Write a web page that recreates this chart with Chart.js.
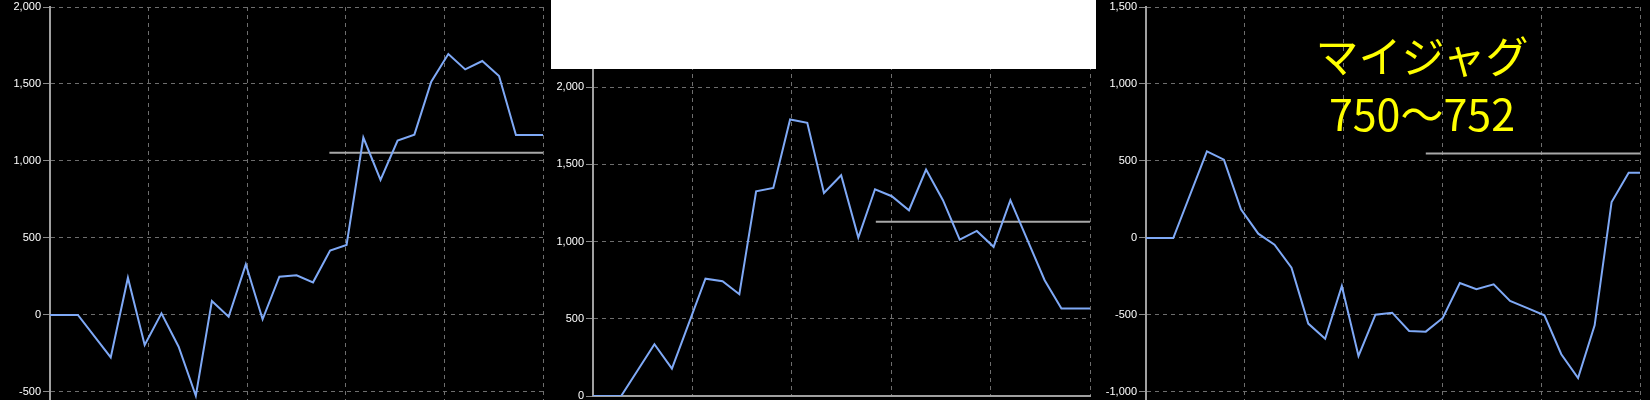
<!DOCTYPE html>
<html>
<head>
<meta charset="utf-8">
<script src="https://cdn.jsdelivr.net/npm/chart.js@4"></script>
<style>
  body { margin: 0; background: #000; width: 1650px; height: 400px; overflow: hidden; position: relative; }
  .panel { position: absolute; top: 0; height: 400px; }
  #box { position: absolute; left: 551px; top: 0; width: 545px; height: 69px; background: #fff; z-index: 2; }
  #label { position: absolute; left: 1272px; top: 25px; width: 300px; text-align: center; z-index: 3;
           font-family: "Noto Sans CJK JP", sans-serif; font-size: 43px; line-height: 58px; color: #ffff00; }
</style>
</head>
<body>
<div class="panel" style="left:0;width:545px"><canvas id="c1"></canvas></div>
<div class="panel" style="left:545px;width:547px"><canvas id="c2"></canvas></div>
<div class="panel" style="left:1096px;width:554px"><canvas id="c3"></canvas></div>
<div id="box"></div>
<div id="label">マイジャグ<br>750〜752</div>
<script>
// games played (x) and coin difference (y) for each machine
let games1 = [0, 276, 601, 771, 937, 1103, 1273, 1443, 1602, 1768, 1938, 2104, 2270, 2440, 2603, 2772, 2935, 3101, 3271, 3440, 3606, 3773, 3942, 4109, 4278, 4444, 4611, 4879];
let diff1 = [0, 0, -275, 242, -195, 11, -206, -525, 91, -11, 329, -28, 249, 258, 212, 418, 455, 1152, 877, 1132, 1171, 1515, 1695, 1595, 1649, 1552, 1169, 1169];

let games2 = [0, 277, 604, 776, 1106, 1274, 1439, 1604, 1773, 1938, 2107, 2271, 2440, 2609, 2773, 2938, 3107, 3275, 3441, 3606, 3774, 3939, 4104, 4441, 4606, 4887];
let diff2 = [0, 0, 335, 177, 760, 743, 659, 1326, 1348, 1791, 1769, 1315, 1430, 1026, 1339, 1294, 1203, 1467, 1268, 1013, 1069, 966, 1268, 750, 566, 566];

let games3 = [0, 270, 603, 771, 940, 1111, 1272, 1440, 1606, 1773, 1938, 2103, 2271, 2436, 2604, 2769, 2937, 3106, 3270, 3441, 3603, 3775, 3943, 4110, 4276, 4440, 4608, 4777, 4889];
let diff3 = [0, 0, 563, 509, 186, 28, -43, -193, -556, -654, -312, -766, -498, -485, -604, -608, -519, -292, -333, -301, -409, -455, -502, -755, -909, -567, 234, 424, 424];

// grey reference line: start game and level
let avgStart = [2765, 2781, 2769];
let avgLevel = [1054, 1128, 548];

// y range and tick labels of each panel
let yMin = [-552, 0, -1052];
let yMax = [2000, 2500, 1500];
let yTicks1 = [-500, 0, 500, 1000, 1500, 2000];
let yTicks2 = [0, 500, 1000, 1500, 2000, 2500];
let yTicks3 = [-1000, -500, 0, 500, 1000, 1500];
let yTicks = [yTicks1, yTicks2, yTicks3];

function makeChart(id, games, diff, i, axisWidth, pad, showBottom) {
    let line = games.map((g, k) => ({x: g, y: diff[k]}));
    let last = games[games.length - 1];
    return new Chart(document.getElementById(id), {
        type: 'line',
        data: {
            datasets: [
                {
                    data: line,
                    borderColor: '#7fa9f6',
                    borderWidth: 2,
                    pointRadius: 0,
                    tension: 0
                },
                {
                    data: [{x: avgStart[i], y: avgLevel[i]}, {x: last, y: avgLevel[i]}],
                    borderColor: '#a8a8a8',
                    borderWidth: 2,
                    pointRadius: 0
                }
            ]
        },
        options: {
            animation: false,
            responsive: true,
            maintainAspectRatio: false,
            layout: {padding: pad},
            plugins: {legend: {display: false}, tooltip: {enabled: false}},
            scales: {
                x: {
                    type: 'linear',
                    min: 0,
                    max: last,
                    ticks: {display: false, stepSize: 1000, includeBounds: false},
                    grid: {color: '#6e6e6e', drawTicks: false},
                    border: {display: showBottom, color: '#a0a0a0', width: 2, dash: [4, 4]},
                    afterFit: s => { s.height = 0; s.paddingLeft = 0; s.paddingRight = 0; }
                },
                y: {
                    min: yMin[i],
                    max: yMax[i],
                    afterBuildTicks: s => { s.ticks = yTicks[i].map(v => ({value: v})); },
                    ticks: {
                        color: '#ffffff',
                        padding: 2,
                        font: {family: 'Liberation Sans, Arial, sans-serif', size: 11},
                        callback: v => v.toLocaleString('en-US')
                    },
                    grid: {color: '#6e6e6e', tickLength: 7, tickColor: '#8a8a8a'},
                    border: {color: '#a0a0a0', width: 2, dash: [4, 4]},
                    afterFit: s => { s.width = axisWidth; s.paddingTop = 0; s.paddingBottom = 0; }
                }
            }
        }
    });
}

makeChart('c1', games1, diff1, 0, 50, {top: 7, right: 2, bottom: 0, left: 0}, false);
makeChart('c2', games2, diff2, 1, 48, {top: 10, right: 2, bottom: 4, left: 0}, true);
makeChart('c3', games3, diff3, 2, 50, {top: 7, right: 10, bottom: 0, left: 0}, false);
</script>
</body>
</html>
